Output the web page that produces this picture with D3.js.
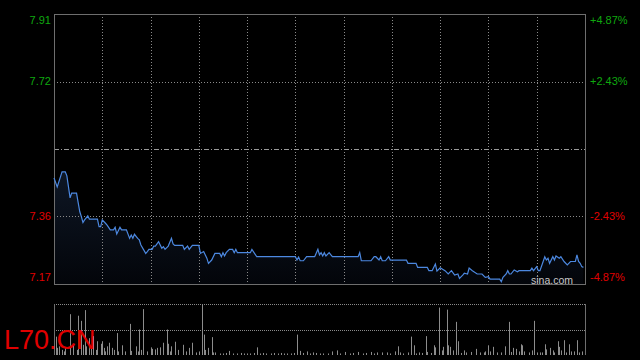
<!DOCTYPE html>
<html lang="zh-cn">
<head>
    <meta charset="UTF-8">
    <title>L70.CN</title>
    <script src="https://d3js.org/d3.v7.min.js"></script>
    <style>
        body {
            margin: 0;
            background-color: #000;
            font-family: Arial, 'Liberation Sans', sans-serif;
        }
        svg { display: block; }
    </style>
</head>
<body>
    <div id="chart"></div>

    <script>
        // previous close and the percent band of the chart
        const preClose = 7.54;
        const tickPct = [4.87, 2.43, -2.43, -4.87];
        const leftLabels = ["7.91", "7.72", "7.36", "7.17"];
        const rightLabels = ["+4.87%", "+2.43%", "-2.43%", "-4.87%"];
        const gridMinutes = [30, 60, 90, 120, 150, 180, 210, 240, 270, 300];

        // price line (minute of session, price)
        const minutes = [0, 2, 5, 7, 8, 10, 11, 14, 16, 17, 18, 19, 21, 22, 27, 28, 29, 30, 32, 33,
            35, 37, 38, 39, 41, 42, 45, 47, 48, 49, 50, 52, 53, 54, 57, 58, 59, 61, 62, 63,
            65, 67, 68, 69, 71, 73, 74, 75, 80, 81, 83, 84, 86, 90, 91, 93, 95, 96, 98, 100,
            103, 104, 105, 106, 107, 109, 111, 112, 113, 114, 122, 123, 126, 150, 151, 152, 153, 155, 157, 162,
            164, 165, 166, 167, 168, 169, 171, 173, 189, 190, 191, 197, 199, 200, 202, 203, 204, 206, 208, 209,
            219, 220, 225, 226, 232, 233, 235, 237, 238, 240, 243, 245, 247, 249, 251, 252, 254, 255, 257, 258,
            260, 263, 266, 268, 270, 271, 277, 278, 279, 281, 282, 283, 284, 286, 288, 289, 296, 297, 298, 300,
            301, 302, 304, 305, 306, 307, 308, 310, 311, 312, 314, 315, 317, 319, 321, 324, 325, 326, 327, 328, 329];
        const prices = [7.461, 7.437, 7.478, 7.478, 7.467, 7.407, 7.420, 7.420, 7.370, 7.356, 7.340, 7.347, 7.358, 7.349, 7.349, 7.329, 7.329, 7.347, 7.338, 7.333,
            7.320, 7.320, 7.327, 7.309, 7.327, 7.320, 7.320, 7.297, 7.306, 7.297, 7.308, 7.297, 7.293, 7.279, 7.256, 7.261, 7.267, 7.267, 7.276, 7.276,
            7.288, 7.270, 7.274, 7.267, 7.276, 7.297, 7.282, 7.278, 7.278, 7.267, 7.276, 7.267, 7.278, 7.278, 7.256, 7.261, 7.243, 7.229, 7.238, 7.256,
            7.256, 7.247, 7.258, 7.249, 7.258, 7.267, 7.267, 7.258, 7.267, 7.258, 7.258, 7.267, 7.247, 7.247, 7.238, 7.246, 7.236, 7.236, 7.247, 7.247,
            7.267, 7.252, 7.258, 7.249, 7.258, 7.249, 7.258, 7.247, 7.247, 7.258, 7.236, 7.236, 7.247, 7.247, 7.238, 7.247, 7.236, 7.236, 7.247, 7.238,
            7.238, 7.229, 7.229, 7.218, 7.218, 7.209, 7.209, 7.227, 7.208, 7.217, 7.209, 7.200, 7.209, 7.197, 7.200, 7.188, 7.197, 7.202, 7.200, 7.216,
            7.209, 7.200, 7.200, 7.191, 7.193, 7.186, 7.186, 7.179, 7.191, 7.200, 7.209, 7.200, 7.200, 7.211, 7.206, 7.209, 7.209, 7.216, 7.209, 7.220,
            7.209, 7.209, 7.234, 7.247, 7.238, 7.243, 7.229, 7.247, 7.238, 7.249, 7.243, 7.247, 7.234, 7.225, 7.234, 7.234, 7.252, 7.234, 7.229, 7.220, 7.218];

        // volume bars (minute of session, relative volume)
        const volMinutes = [1, 2, 3, 5, 6, 7, 10, 12, 14, 15, 17, 18, 19, 20, 22, 23, 24, 26, 27, 29,
            30, 31, 32, 33, 34, 36, 37, 39, 40, 42, 44, 47, 48, 51, 52, 53, 54, 55, 58, 60,
            61, 63, 64, 66, 68, 70, 71, 72, 73, 75, 77, 80, 82, 84, 86, 88, 90, 92, 93, 94,
            96, 98, 99, 100, 103, 105, 107, 109, 111, 114, 116, 118, 120, 122, 124, 126, 128, 130, 132, 135,
            137, 139, 141, 143, 145, 147, 149, 151, 153, 155, 157, 159, 161, 163, 165, 167, 170, 173, 176, 178,
            181, 184, 186, 189, 192, 194, 197, 199, 201, 204, 207, 209, 212, 214, 215, 217, 220, 222, 224, 225,
            227, 229, 231, 232, 234, 236, 237, 239, 241, 242, 244, 245, 246, 248, 250, 251, 253, 255, 256, 259,
            262, 265, 267, 268, 270, 271, 273, 275, 278, 280, 283, 284, 285, 287, 289, 290, 291, 292, 295, 297,
            298, 300, 302, 303, 305, 306, 308, 310, 311, 313, 314, 315, 317, 318, 320, 321, 323, 325, 326, 328];
        const volumes = [36, 14, 17, 10, 7, 14, 80, 20, 10, 77, 67, 20, 88, 17, 33, 14, 37, 10, 27, 22,
            27, 14, 7, 17, 24, 14, 10, 43, 7, 19, 7, 61, 8, 17, 7, 50, 10, 90, 7, 15,
            12, 11, 14, 15, 24, 50, 22, 7, 17, 26, 10, 20, 7, 14, 24, 5, 7, 100, 40, 10,
            14, 35, 5, 5, 3, 3, 4, 8, 3, 3, 4, 3, 3, 3, 4, 15, 3, 4, 3, 3,
            4, 3, 4, 3, 3, 3, 4, 40, 8, 4, 7, 3, 5, 4, 3, 3, 3, 7, 9, 3,
            6, 3, 4, 6, 3, 4, 6, 3, 5, 5, 5, 3, 7, 17, 5, 3, 5, 36, 19, 3,
            5, 4, 37, 6, 4, 19, 15, 93, 9, 16, 89, 19, 16, 9, 65, 27, 4, 9, 5, 6,
            12, 5, 5, 7, 19, 7, 16, 5, 5, 17, 65, 6, 14, 12, 7, 21, 19, 7, 5, 9,
            67, 5, 5, 5, 21, 11, 14, 9, 5, 27, 16, 9, 29, 5, 21, 7, 7, 29, 5, 7];

        const width = 640, height = 360;
        const margin = {left: 54, right: 55, top: 14};
        const priceBottom = 284;
        const volTop = 304, volBottom = 355;

        const svg = d3.select("#chart")
            .append("svg")
            .attr("width", width)
            .attr("height", height);

        const x = d3.scaleLinear()
            .domain([0, 330])
            .range([margin.left, width - margin.right]);

        const y = d3.scaleLinear()
            .domain([preClose * (1 - 0.0487), preClose * (1 + 0.0487)])
            .range([priceBottom, margin.top]);

        const yVol = d3.scaleLinear()
            .domain([0, 100])
            .range([volBottom, volTop]);

        const x0 = x.range()[0], x1 = x.range()[1];

        // area gradient
        const grad = svg.append("defs").append("linearGradient")
            .attr("id", "fade")
            .attr("gradientUnits", "userSpaceOnUse")
            .attr("x1", 0).attr("x2", 0)
            .attr("y1", y(d3.max(prices))).attr("y2", priceBottom);
        grad.append("stop").attr("offset", 0).attr("stop-color", "#0e1725");
        grad.append("stop").attr("offset", 1).attr("stop-color", "#03050a");

        const points = minutes.map((m, i) => ({m: m, p: prices[i]}));

        svg.append("path")
            .datum(points)
            .attr("fill", "url(#fade)")
            .attr("d", d3.area()
                .x(d => x(d.m))
                .y0(priceBottom)
                .y1(d => y(d.p)));

        // vertical grid
        svg.selectAll(".vgrid")
            .data(gridMinutes)
            .enter().append("line")
            .attr("x1", d => Math.round(x(d)) + 0.5)
            .attr("x2", d => Math.round(x(d)) + 0.5)
            .attr("y1", margin.top)
            .attr("y2", priceBottom)
            .attr("stroke", "#8a8a8a")
            .attr("stroke-dasharray", "1,2");

        // horizontal grid at +-2.43%
        svg.selectAll(".hgrid")
            .data(tickPct.slice(1, 3))
            .enter().append("line")
            .attr("x1", x0)
            .attr("x2", x1)
            .attr("y1", d => Math.round(y(preClose * (1 + d / 100))) + 0.5)
            .attr("y2", d => Math.round(y(preClose * (1 + d / 100))) + 0.5)
            .attr("stroke", "#8a8a8a")
            .attr("stroke-dasharray", "1,2");

        // previous close line
        svg.append("line")
            .attr("x1", x0)
            .attr("x2", x1)
            .attr("y1", Math.round(y(preClose)) + 0.5)
            .attr("y2", Math.round(y(preClose)) + 0.5)
            .attr("stroke", "#9a9a9a")
            .attr("stroke-dasharray", "5,2,1,2");

        // frame
        svg.append("rect")
            .attr("x", x0 + 0.5)
            .attr("y", margin.top + 0.5)
            .attr("width", x1 - x0)
            .attr("height", priceBottom - margin.top)
            .attr("fill", "none")
            .attr("stroke", "#6e6e6e");

        // price line
        svg.append("path")
            .datum(points)
            .attr("fill", "none")
            .attr("stroke", "#4c88e0")
            .attr("stroke-width", 1.2)
            .attr("d", d3.line()
                .x(d => x(d.m))
                .y(d => y(d.p)));

        // axis labels
        const labelY = (d, i) => {
            const v = y(preClose * (1 + d / 100));
            if (i === 0) return v + 6;
            if (i === tickPct.length - 1) return v - 7;
            return v;
        };

        svg.selectAll(".lab-left")
            .data(tickPct)
            .enter().append("text")
            .attr("x", 51)
            .attr("y", labelY)
            .attr("dy", "0.35em")
            .attr("text-anchor", "end")
            .attr("font-size", 11)
            .attr("fill", d => d > 0 ? "#0fa80f" : "#e00000")
            .text((d, i) => leftLabels[i]);

        svg.selectAll(".lab-right")
            .data(tickPct)
            .enter().append("text")
            .attr("x", 590)
            .attr("y", labelY)
            .attr("dy", "0.35em")
            .attr("text-anchor", "start")
            .attr("font-size", 11)
            .attr("fill", d => d > 0 ? "#0fa80f" : "#e00000")
            .text((d, i) => rightLabels[i]);

        svg.append("text")
            .attr("x", 573)
            .attr("y", 280)
            .attr("dy", "0.35em")
            .attr("text-anchor", "end")
            .attr("font-size", 10.5)
            .attr("fill", "#c8c8c8")
            .text("sina.com");

        // volume panel
        svg.selectAll(".vol")
            .data(volMinutes)
            .enter().append("line")
            .attr("x1", d => Math.round(x(d)) + 0.5)
            .attr("x2", d => Math.round(x(d)) + 0.5)
            .attr("y1", volBottom)
            .attr("y2", (d, i) => yVol(volumes[i]))
            .attr("stroke", "#8c8c8c");

        svg.selectAll(".vgridh")
            .data([100, 50])
            .enter().append("line")
            .attr("x1", x0)
            .attr("x2", x1)
            .attr("y1", d => Math.round(yVol(d)) + 0.5)
            .attr("y2", d => Math.round(yVol(d)) + 0.5)
            .attr("stroke", "#8a8a8a")
            .attr("stroke-dasharray", "1,1");

        svg.selectAll(".vside")
            .data([x0, x1])
            .enter().append("line")
            .attr("x1", d => d + 0.5)
            .attr("x2", d => d + 0.5)
            .attr("y1", volTop)
            .attr("y2", volBottom)
            .attr("stroke", "#6e6e6e");

        svg.append("text")
            .attr("x", 4)
            .attr("y", 349)
            .attr("font-size", 27)
            .attr("fill", "#e00000")
            .text("L70.CN");
    </script>
</body>
</html>
